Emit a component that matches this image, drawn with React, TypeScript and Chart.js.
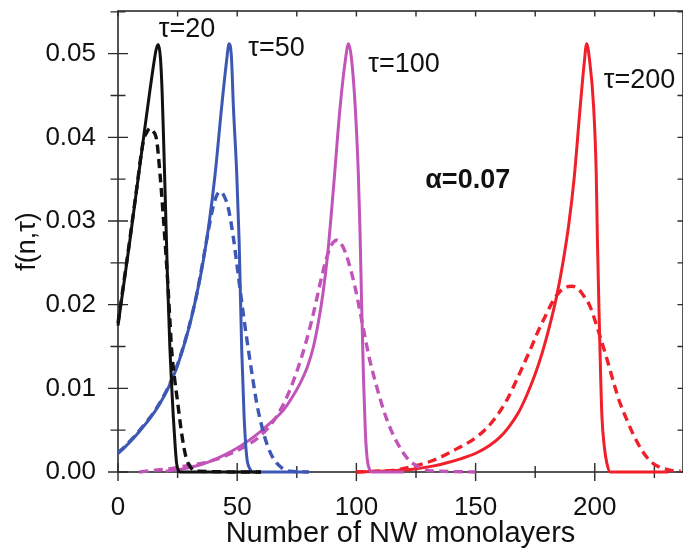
import React, { useEffect, useRef } from "react";
import { Chart, registerables } from "chart.js";

Chart.register(...registerables);

// ---------- axis ranges and tick labels ----------
const X_MIN = 0;
const X_MAX = 237;
const Y_MIN = 0;
const Y_MAX = 0.0551;
const X_TICK_STEP = 50;
const Y_TICK_STEP = 0.01;
const X_TITLE = "Number of NW monolayers";
const Y_TITLE = "f(n,τ)";

// ---------- tau = 20 (black) ----------
const t20SolidX = [0, 2.5, 5, 7.8, 10.6, 13, 15, 16, 16.9, 17.8, 18.5, 19.2, 20, 20.8, 21.8, 22.6, 23.2, 24, 24.6, 25.3, 26, 60];
const t20SolidY = [0.0175, 0.0226, 0.0277, 0.0337, 0.0397, 0.0448, 0.0488, 0.0505, 0.0511, 0.0495, 0.0455, 0.039, 0.031, 0.0228, 0.0146, 0.0098, 0.0066, 0.003, 0.001, 0.0002, 0, 0];
const t20DashX = [0, 2.5, 5, 7.8, 10.6, 12.5, 13.4, 14.5, 16.2, 17.6, 18.7, 19.7, 20.8, 21.8, 22.5, 23.8, 24.9, 26.7, 28.5, 30.9, 33, 60];
const t20DashY = [0.0178, 0.0228, 0.0279, 0.0338, 0.0395, 0.0408, 0.0411, 0.0408, 0.0397, 0.0357, 0.0317, 0.0277, 0.023, 0.018, 0.0146, 0.011, 0.0086, 0.0046, 0.0018, 0.0004, 0.0001, 0];

// ---------- tau = 50 (blue) ----------
const t50SolidX = [0, 3, 6.4, 10, 13.4, 17.6, 21, 24, 27, 30, 33, 35.5, 38, 40.7, 43.5, 45.5, 46.6, 47.6, 48.4, 49.8, 50.8, 51.9, 52.9, 54, 55.3, 56.5, 80];
const t50SolidY = [0.0022, 0.003, 0.004, 0.0052, 0.0064, 0.0082, 0.01, 0.012, 0.0145, 0.0175, 0.0212, 0.0248, 0.0293, 0.0355, 0.0437, 0.049, 0.0512, 0.0495, 0.0437, 0.0357, 0.0277, 0.0146, 0.0066, 0.0018, 0.0004, 0, 0];
const t50DashX = [0, 3, 6.4, 10, 13.4, 17.6, 21, 24, 27, 30, 33, 35.5, 38, 40, 41.5, 42.8, 44.5, 46.3, 48.4, 50.1, 52.6, 54.7, 56.5, 58.2, 60.3, 62.4, 65.2, 68.7, 72, 80];
const t50DashY = [0.0023, 0.0031, 0.0041, 0.0053, 0.0065, 0.0083, 0.0101, 0.0121, 0.0146, 0.0176, 0.0212, 0.025, 0.029, 0.0318, 0.0331, 0.0335, 0.033, 0.0315, 0.028, 0.0243, 0.0188, 0.0146, 0.0112, 0.0082, 0.0055, 0.0034, 0.0016, 0.0005, 0.0001, 0];

// ---------- tau = 100 (magenta) ----------
const t100SolidX = [20, 27.4, 35, 41.4, 48.4, 54, 59.6, 64, 69.4, 73, 76.4, 79.5, 82, 84, 86, 88, 90.4, 93.2, 95.5, 96.7, 97.9, 99.5, 100.8, 101.5, 102.2, 103, 103.8, 104.6, 105.5, 106.5, 120];
const t100SolidY = [0.0001, 0.0004, 0.0009, 0.0016, 0.0026, 0.0036, 0.0048, 0.0059, 0.0074, 0.0089, 0.0106, 0.0126, 0.015, 0.0178, 0.0214, 0.0262, 0.034, 0.0437, 0.0495, 0.0512, 0.0495, 0.0437, 0.0357, 0.029, 0.02, 0.011, 0.0045, 0.0014, 0.0003, 0, 0];
const t100DashX = [9, 15, 22, 28, 34.4, 41, 48, 55.4, 60, 65, 68.5, 71.5, 74.5, 77.5, 80, 82.5, 85, 87.3, 89.5, 91.8, 94.2, 96.6, 99.5, 101.5, 103.5, 105.5, 108.5, 111.3, 114.1, 117.5, 121.2, 125.4, 130, 135, 150];
const t100DashY = [0, 0.0002, 0.0004, 0.0007, 0.001, 0.0015, 0.0023, 0.0034, 0.0044, 0.006, 0.0076, 0.0094, 0.0116, 0.0142, 0.0167, 0.0196, 0.0228, 0.0254, 0.0271, 0.0277, 0.027, 0.0252, 0.022, 0.0192, 0.0163, 0.0135, 0.0102, 0.0075, 0.0053, 0.0033, 0.0017, 0.0007, 0.0002, 0.0001, 0];

// ---------- tau = 200 (red) ----------
const t200SolidX = [100, 110, 118, 125.4, 132, 138, 144, 150.5, 156, 160, 164, 168, 171.5, 175, 178, 181, 184, 186.5, 189, 191.3, 193.9, 195.6, 196.6, 197.7, 199.5, 200.6, 201.1, 201.8, 202.5, 203, 204, 205.1, 206.5, 231];
const t200SolidY = [0, 0.0001, 0.0002, 0.0004, 0.0007, 0.0011, 0.0016, 0.0023, 0.0032, 0.0041, 0.0054, 0.0071, 0.0092, 0.0117, 0.0143, 0.0174, 0.021, 0.0248, 0.0294, 0.035, 0.0437, 0.049, 0.0512, 0.0495, 0.0437, 0.0357, 0.0277, 0.019, 0.011, 0.0066, 0.003, 0.001, 0, 0];
const t200DashX = [100, 108, 115.5, 124, 132.3, 141, 150.5, 157, 163.1, 168, 172.9, 176.5, 179.9, 183, 185.5, 188, 190.4, 193, 195.5, 198, 200, 202.2, 205, 208, 210.5, 213.5, 216.3, 219.1, 222, 225, 228, 232, 236];
const t200DashY = [0, 0.0001, 0.0002, 0.0007, 0.0014, 0.0026, 0.0042, 0.006, 0.0086, 0.0115, 0.0146, 0.017, 0.019, 0.0207, 0.0216, 0.0221, 0.0222, 0.0219, 0.021, 0.0198, 0.0182, 0.0162, 0.0136, 0.0106, 0.0083, 0.0062, 0.0044, 0.0029, 0.0017, 0.0009, 0.0005, 0.0002, 0.0001];

// ---------- in-plot labels (anchored in data units) ----------
const labelTexts = ["τ=20", "τ=50", "τ=100", "τ=200"];
const labelX = [28.95, 66.5, 120.0, 218.8];
const labelY = [0.052, 0.04975, 0.04775, 0.04589];
const alphaText = "α=0.07";
const alphaX = 146.7;
const alphaY = 0.03392;

// ---------- styles ----------
const FONT = "'Liberation Sans', Arial, Helvetica, sans-serif";
const AXIS_COLOR = "#2b2b2b";
const TEXT_COLOR = "#111111";
const BLACK = "#111111";
const BLUE = "#3d58b4";
const MAGENTA = "#c154b8";
const RED = "#f0202a";
const DASH = [9, 5.5];

const toPoints = (xs: number[], ys: number[]) => xs.map((x, i) => ({ x, y: ys[i] }));

const makeSet = (label: string, xs: number[], ys: number[], color: string, dashed: boolean) => ({
  label,
  data: toPoints(xs, ys),
  borderColor: color,
  backgroundColor: color,
  borderWidth: dashed ? 3.4 : 3,
  borderDash: dashed ? DASH : [],
  pointRadius: 0,
  pointHoverRadius: 0,
  cubicInterpolationMode: "monotone" as const,
  fill: false,
  clip: false as const,
});

const framePlugin = {
  id: "frameTicks",
  beforeDatasetsDraw(chart: any) {
    const { ctx, chartArea: a, scales } = chart;
    const xs = scales.x;
    const ys = scales.y;
    ctx.save();
    ctx.strokeStyle = AXIS_COLOR;
    ctx.lineWidth = 1.6;
    ctx.strokeRect(a.left, a.top, a.right - a.left, a.bottom - a.top);
    ctx.lineWidth = 1.4;
    ctx.beginPath();
    const nx = Math.floor(X_MAX / 25);
    for (let i = 0; i <= nx; i++) {
      const v = i * 25;
      const px = xs.getPixelForValue(v);
      const major = i % 2 === 0;
      const len = major ? 9 : 6;
      ctx.moveTo(px, a.bottom - len);
      ctx.lineTo(px, a.bottom + len);
      ctx.moveTo(px, a.top);
      ctx.lineTo(px, a.top + 5.5);
    }
    const ny = Math.floor(Y_MAX / 0.005 + 1e-9);
    for (let i = 0; i <= ny; i++) {
      const v = i * 0.005;
      const py = ys.getPixelForValue(v);
      const major = i % 2 === 0;
      const len = major ? 10 : 7.5;
      ctx.moveTo(a.left - len, py);
      ctx.lineTo(a.left + len, py);
      ctx.moveTo(a.right, py);
      ctx.lineTo(a.right - 5.5, py);
    }
    ctx.stroke();
    ctx.restore();
  },
  afterDatasetsDraw(chart: any) {
    const { ctx, scales } = chart;
    const xs = scales.x;
    const ys = scales.y;
    ctx.save();
    ctx.fillStyle = TEXT_COLOR;
    ctx.textAlign = "center";
    ctx.textBaseline = "alphabetic";
    ctx.font = `27px ${FONT}`;
    labelTexts.forEach((t, i) => {
      ctx.fillText(t, xs.getPixelForValue(labelX[i]), ys.getPixelForValue(labelY[i]));
    });
    ctx.font = `bold 27px ${FONT}`;
    ctx.fillText(alphaText, xs.getPixelForValue(alphaX), ys.getPixelForValue(alphaY));
    ctx.restore();
  },
};

export default function App() {
  const canvasRef = useRef<HTMLCanvasElement | null>(null);

  useEffect(() => {
    const canvas = canvasRef.current;
    if (!canvas) return;
    const chart = new Chart(canvas, {
      type: "line",
      data: {
        datasets: [
          makeSet("τ=20 dashed", t20DashX, t20DashY, BLACK, true),
          makeSet("τ=20", t20SolidX, t20SolidY, BLACK, false),
          makeSet("τ=50 dashed", t50DashX, t50DashY, BLUE, true),
          makeSet("τ=50", t50SolidX, t50SolidY, BLUE, false),
          makeSet("τ=100 dashed", t100DashX, t100DashY, MAGENTA, true),
          makeSet("τ=100", t100SolidX, t100SolidY, MAGENTA, false),
          makeSet("τ=200 dashed", t200DashX, t200DashY, RED, true),
          makeSet("τ=200", t200SolidX, t200SolidY, RED, false),
        ],
      },
      options: {
        responsive: false,
        animation: false,
        devicePixelRatio: 1,
        layout: { padding: { top: 11, right: 0, left: 0, bottom: 0 } },
        plugins: { legend: { display: false }, tooltip: { enabled: false } },
        scales: {
          x: {
            type: "linear",
            min: X_MIN,
            max: X_MAX,
            grid: { display: false },
            border: { display: false },
            ticks: {
              stepSize: X_TICK_STEP,
              includeBounds: false,
              padding: 12,
              color: TEXT_COLOR,
              font: { family: FONT, size: 26 },
              maxRotation: 0,
              autoSkip: false,
              callback: (v: any) => String(v),
            },
            title: {
              display: true,
              text: X_TITLE,
              color: TEXT_COLOR,
              font: { family: FONT, size: 29 },
              padding: { top: 0, bottom: 0 },
            },
            afterFit: (s: any) => {
              s.height = 79;
              s.paddingLeft = 0;
              s.paddingRight = 0;
            },
          },
          y: {
            type: "linear",
            min: Y_MIN,
            max: Y_MAX,
            grid: { display: false },
            border: { display: false },
            ticks: {
              stepSize: Y_TICK_STEP,
              includeBounds: false,
              padding: 14,
              color: TEXT_COLOR,
              font: { family: FONT, size: 26 },
              callback: (v: any) => Number(v).toFixed(2),
            },
            title: {
              display: true,
              text: Y_TITLE,
              color: TEXT_COLOR,
              font: { family: FONT, size: 27 },
              padding: { top: 11, bottom: 0 },
            },
            afterFit: (s: any) => {
              s.width = 118;
              s.paddingTop = 0;
              s.paddingBottom = 0;
            },
          },
        },
      },
      plugins: [framePlugin],
    });
    return () => chart.destroy();
  }, []);

  return (
    <div style={{ position: "absolute", left: 0, top: 0, width: 683, height: 551, background: "#fff" }}>
      <canvas ref={canvasRef} width={683} height={551} style={{ display: "block" }} />
    </div>
  );
}
